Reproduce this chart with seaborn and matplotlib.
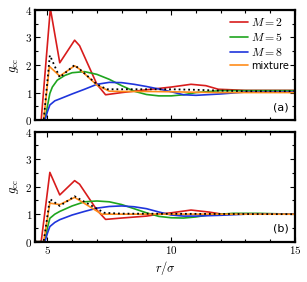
import numpy as np
import pandas as pd
import matplotlib
matplotlib.use("Agg")
import matplotlib.pyplot as plt
import seaborn as sns
from matplotlib.ticker import MultipleLocator, FixedLocator, FuncFormatter

# ---- panel (a) ----
r_m2_a = [4.5, 4.75, 5.12, 5.5, 6.1, 6.3, 7.0, 7.35, 8.0, 8.9, 9.5, 10.0, 10.8, 11.4, 11.9, 13.0, 15.0]
g_m2_a = [0.0, 0.0, 4.05, 2.08, 2.9, 2.7, 1.3, 0.92, 1.0, 1.09, 1.15, 1.2, 1.3, 1.25, 1.12, 1.08, 1.08]
r_m5_a = [4.5, 4.9, 5.0, 5.1, 5.2, 5.4, 5.7, 6.0, 6.5, 7.0, 7.5, 8.0, 8.5, 9.0, 9.5, 10.0, 10.5, 11.0, 12.0, 13.0, 15.0]
g_m5_a = [0.0, 0.0, 0.5, 0.97, 1.2, 1.45, 1.62, 1.72, 1.76, 1.66, 1.48, 1.25, 1.05, 0.93, 0.88, 0.88, 0.92, 1.0, 1.07, 1.07, 1.07]
r_m8_a = [4.5, 4.9, 5.0, 5.1, 5.3, 5.5, 6.0, 6.5, 7.0, 7.5, 8.0, 8.5, 9.0, 9.5, 10.0, 10.5, 11.0, 12.0, 13.0, 15.0]
g_m8_a = [0.0, 0.0, 0.3, 0.55, 0.7, 0.77, 0.95, 1.12, 1.3, 1.37, 1.36, 1.3, 1.22, 1.13, 1.03, 0.92, 0.9, 0.95, 1.02, 1.03]
r_mix_a = [4.5, 4.85, 5.08, 5.5, 6.1, 6.3, 7.0, 7.5, 8.0, 9.0, 10.0, 11.0, 12.0, 13.0, 15.0]
g_mix_a = [0.0, 0.0, 1.95, 1.6, 1.97, 1.85, 1.27, 1.05, 1.04, 1.04, 1.03, 1.01, 1.0, 1.0, 1.0]
r_ref_a = [4.5, 4.85, 5.1, 5.5, 6.1, 6.3, 7.0, 7.4, 9.0, 10.0, 11.0, 12.0, 13.0, 15.0]
g_ref_a = [0.0, 0.0, 2.35, 1.55, 2.0, 1.85, 1.3, 1.12, 1.12, 1.12, 1.1, 1.07, 1.05, 1.05]

# ---- panel (b) ----
r_m2_b = [4.5, 4.75, 5.1, 5.5, 6.1, 6.3, 7.0, 7.35, 8.0, 9.0, 9.5, 10.0, 10.8, 11.5, 12.0, 15.0]
g_m2_b = [0.0, 0.0, 2.52, 1.7, 2.22, 2.09, 1.15, 0.81, 0.86, 0.93, 1.0, 1.05, 1.15, 1.08, 1.01, 1.0]
r_m5_b = [4.5, 4.9, 5.0, 5.1, 5.3, 5.5, 6.0, 6.5, 7.0, 7.5, 8.0, 8.5, 9.0, 9.5, 10.0, 10.5, 11.0, 11.5, 12.5, 13.5, 15.0]
g_m5_b = [0.0, 0.0, 0.5, 0.85, 1.0, 1.1, 1.3, 1.45, 1.48, 1.45, 1.35, 1.2, 1.05, 0.92, 0.87, 0.86, 0.9, 0.97, 1.03, 1.03, 1.0]
r_m8_b = [4.5, 4.9, 5.0, 5.1, 5.3, 5.5, 6.0, 6.5, 7.0, 7.5, 8.0, 8.5, 9.0, 9.5, 10.0, 10.5, 11.0, 12.0, 13.0, 15.0]
g_m8_b = [0.0, 0.0, 0.3, 0.55, 0.7, 0.8, 0.97, 1.1, 1.22, 1.28, 1.3, 1.27, 1.2, 1.08, 0.97, 0.93, 0.93, 0.96, 1.0, 1.0]
r_mix_b = [4.5, 4.85, 5.1, 5.5, 6.1, 6.3, 7.2, 8.0, 15.0]
g_mix_b = [0.0, 0.0, 1.4, 1.35, 1.61, 1.5, 1.0, 1.0, 1.0]
r_ref_b = [4.5, 4.85, 5.1, 5.5, 6.1, 6.3, 7.3, 8.0, 15.0]
g_ref_b = [0.0, 0.0, 1.55, 1.3, 1.65, 1.55, 1.05, 1.02, 1.0]

labels = ["$M=2$", "$M=5$", "$M=8$", "mixture"]
colors = ["#d81c1c", "#1fa51f", "#1f35dc", "#ff8c1a"]
panel_tags = ["(a)", "(b)"]

sns.set_style("ticks")
plt.rcParams["mathtext.fontset"] = "cm"
plt.rcParams["font.family"] = ["DejaVu Sans"]
for key in ["text.color", "axes.labelcolor", "xtick.color", "ytick.color", "axes.edgecolor"]:
    plt.rcParams[key] = "black"


def long_frame(parts):
    frames = []
    for lab, r, g in parts:
        frames.append(pd.DataFrame({"r": r, "g": g, "series": lab}))
    return pd.concat(frames, ignore_index=True)


data_a = long_frame(zip(labels, [r_m2_a, r_m5_a, r_m8_a, r_mix_a], [g_m2_a, g_m5_a, g_m8_a, g_mix_a]))
data_b = long_frame(zip(labels, [r_m2_b, r_m5_b, r_m8_b, r_mix_b], [g_m2_b, g_m5_b, g_m8_b, g_mix_b]))
ref_a = pd.DataFrame({"r": r_ref_a, "g": g_ref_a})
ref_b = pd.DataFrame({"r": r_ref_b, "g": g_ref_b})

fig = plt.figure(figsize=(3.07, 2.82), dpi=100)
ax_a = fig.add_axes([0.114, 0.574, 0.847, 0.391])
ax_b = fig.add_axes([0.114, 0.143, 0.847, 0.390])

math_fmt = FuncFormatter(lambda v, p: f"${v:g}$")

for ax, data, ref, tag in [(ax_a, data_a, ref_a, "(a)"), (ax_b, data_b, ref_b, "(b)")]:
    sns.lineplot(data=data, x="r", y="g", hue="series", hue_order=labels,
                 palette=colors, linewidth=1.2, sort=False, estimator=None,
                 ax=ax, legend=(ax is ax_a))
    sns.lineplot(data=ref, x="r", y="g", color="black", linestyle=":",
                 linewidth=1.3, sort=False, estimator=None, ax=ax, legend=False)
    ax.set_xlim(4.5, 15)
    ax.set_ylim(0, 4)
    ax.xaxis.set_major_locator(FixedLocator([5, 10, 15]))
    ax.xaxis.set_minor_locator(MultipleLocator(1))
    ax.yaxis.set_major_locator(MultipleLocator(1))
    ax.yaxis.set_minor_locator(MultipleLocator(0.5))
    ax.tick_params(which="both", direction="in", top=True, right=True,
                   labelsize=8, width=0.8, pad=2, color="black", labelcolor="black")
    ax.tick_params(which="major", length=3.5)
    ax.tick_params(which="minor", length=2)
    ax.xaxis.set_major_formatter(math_fmt)
    ax.yaxis.set_major_formatter(math_fmt)
    for sp in ax.spines.values():
        sp.set_linewidth(1.6)
        sp.set_color("black")
    ax.set_ylabel("$g_{\\rm cc}$", fontsize=9, labelpad=3)
    ax.set_xlabel("")
    ax.text(0.975, 0.07, tag, transform=ax.transAxes, ha="right", va="bottom", fontsize=8)

ax_a.tick_params(labelbottom=False)
ax_b.set_xlabel("$r/\\sigma$", fontsize=9, labelpad=2)

leg = ax_a.legend(loc="upper right", frameon=False, fontsize=8.5, handlelength=1.5,
                  handletextpad=0.25, labelspacing=0.15, borderaxespad=0.25,
                  borderpad=0.3)
leg.get_texts()[3].set_fontsize(7)

fig.savefig("out.png", dpi=100)
